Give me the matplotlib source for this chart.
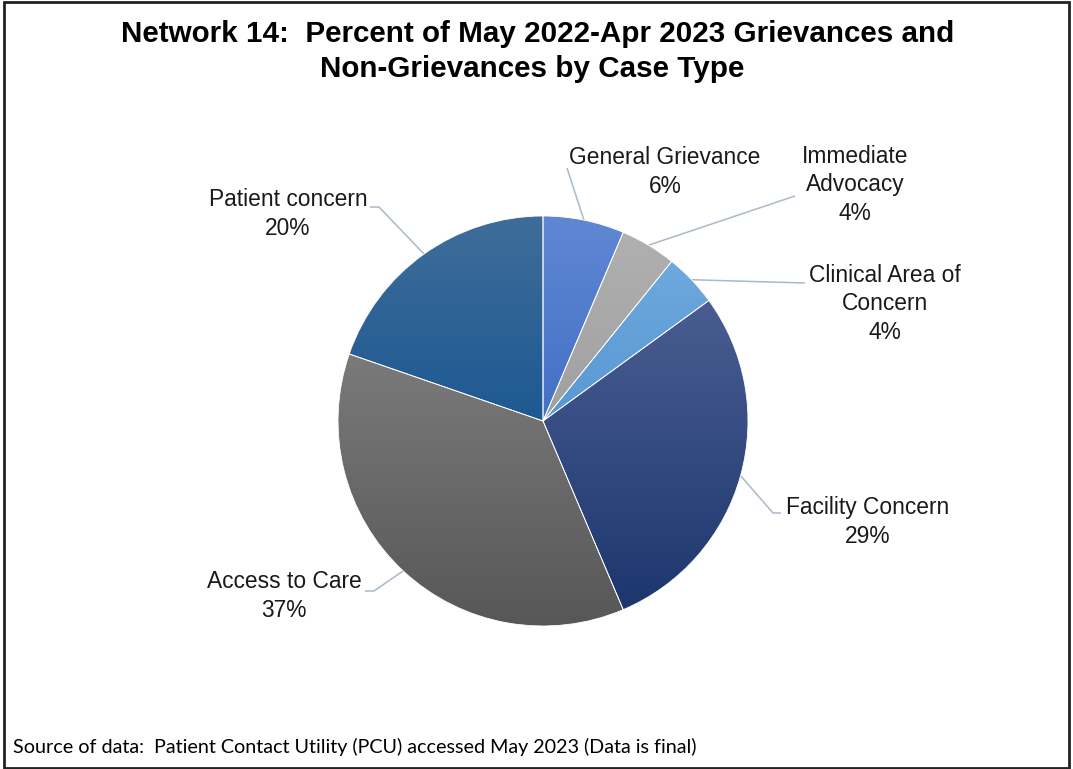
import numpy as np
import matplotlib
matplotlib.use("Agg")
import matplotlib.pyplot as plt
from matplotlib.colors import LinearSegmentedColormap
from matplotlib.patches import Rectangle

categories = ["General Grievance", "Immediate\nAdvocacy", "Clinical Area of\nConcern",
              "Facility Concern", "Access to Care", "Patient concern"]
percents = [6.4, 4.4, 4.2, 28.6, 36.7, 19.7]

# gradient colours per slice (top, bottom)
grads = [("#6087d3", "#4370c5"), ("#b0b0b0", "#a0a0a0"), ("#6ea8de", "#5898d3"),
         ("#4a5d92", "#1c376e"), ("#7a7a7a", "#575757"), ("#3f6d99", "#1d5992")]

W, H = 1073, 769
cx, cy, R = 543, H - 421, 205

# label centre (px from top-left) and leader line path (elbow, end)
label_pos = [(665, 172), (855, 185), (885, 304), (868, 522), (284, 596), (288, 214)]
leader_pts = [[(567, 168)], [(795, 196)], [(805, 283)],
              [(773, 513), (781, 513)], [(374, 591), (365, 591)], [(379, 207), (370, 207)]]

fig = plt.figure(figsize=(W / 100, H / 100), dpi=100)
ax = fig.add_axes([0, 0, 1, 1])

wedges, _ = ax.pie(percents, startangle=90, counterclock=False, center=(cx, cy), radius=R,
                   wedgeprops=dict(linewidth=0.6, edgecolor="white"))

grad = np.linspace(0, 1, 256).reshape(-1, 1)
for w, (top, bot) in zip(wedges, grads):
    bb = w.get_path().get_extents()
    cmap = LinearSegmentedColormap.from_list("g", [bot, top])
    im = ax.imshow(grad, extent=[bb.x0, bb.x1, bb.y0, bb.y1], origin="lower",
                   cmap=cmap, aspect="auto", zorder=2, interpolation="bilinear")
    im.set_clip_path(w)
    w.set_facecolor("none")
    w.set_zorder(3)

# labels and leader lines
cum = np.cumsum([0] + percents)
for i, lab in enumerate(categories):
    mid = (cum[i] + cum[i + 1]) / 2 / 100 * 360
    sx = cx + R * np.sin(np.radians(mid))
    sy = cy + R * np.cos(np.radians(mid))
    xs = [sx] + [p[0] for p in leader_pts[i]]
    ys = [sy] + [H - p[1] for p in leader_pts[i]]
    ax.plot(xs, ys, color="#a9b8cb", lw=1.1, zorder=1, solid_capstyle="butt")
    lx, ly = label_pos[i]
    ax.text(lx, H - ly, f"{lab}\n{percents[i]:.0f}%", ha="center", va="center",
            fontsize=16.4, family="Liberation Sans", color="#1a1a1a", linespacing=1.28)

title_font = dict(ha="center", va="center", fontsize=21.3, fontweight="bold",
                  family="Liberation Sans", color="black")
ax.text(538, H - 34, "Network 14:  Percent of May 2022-Apr 2023 Grievances and", **title_font)
ax.text(532, H - 69, "Non-Grievances by Case Type", **title_font)

ax.text(13, H - 747, "Source of data:  Patient Contact Utility (PCU) accessed May 2023 (Data is final)",
        ha="left", va="center", fontsize=14.2, family="Lato", color="black")

ax.set_xlim(0, W)
ax.set_ylim(0, H)
ax.set_aspect("equal")
ax.axis("off")

# chart border
fig.patches.append(Rectangle((4 / W, 1 / H), (W - 8) / W, (H - 3) / H, transform=fig.transFigure,
                             fill=False, edgecolor="#222222", linewidth=2))

fig.savefig("out.png", dpi=100, facecolor="white")
